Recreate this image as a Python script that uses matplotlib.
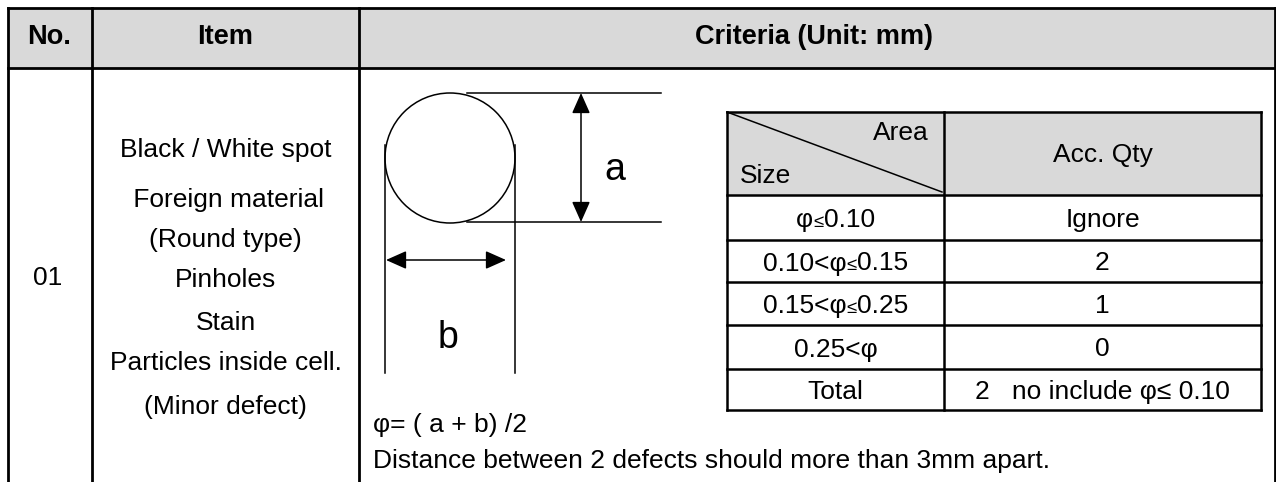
import matplotlib
matplotlib.use('Agg')
import matplotlib.pyplot as plt
from matplotlib.patches import Rectangle, Circle, FancyArrowPatch

plt.rcParams['font.family'] = ['Liberation Sans', 'DejaVu Sans']

# table content
header = ['No.', 'Item', 'Criteria (Unit: mm)']
item_no = '01'
item_lines = ['Black / White spot', ' Foreign material', '(Round type)', 'Pinholes',
              'Stain', 'Particles inside cell.', '(Minor defect)']
item_y = [150, 200, 240, 280, 323, 363, 407]
size_rows = [[('φ', 1.0), ('≤', 0.7), ('0.10', 1.0)],
             [('0.10<φ', 1.0), ('≤', 0.7), ('0.15', 1.0)],
             [('0.15<φ', 1.0), ('≤', 0.7), ('0.25', 1.0)],
             [('0.25<φ', 1.0)],
             [('Total', 1.0)]]
qty_rows = ['Ignore', '2', '1', '0', '2   no include φ≤ 0.10']
formula = 'φ= ( a + b) /2'
note = 'Distance between 2 defects should more than 3mm apart.'

W, H = 1276, 482
FS = 19

def runs_text(ax, x, y, runs, size):
    # one line of text made of pieces with different sizes, centred at x
    r = fig.canvas.get_renderer()
    parts = []
    total = 0
    for s, k in runs:
        t = ax.text(0, y, s, fontsize=size * k, va='baseline', ha='left')
        w = t.get_window_extent(renderer=r).width
        parts.append((t, w))
        total += w
    cur = x - total / 2
    for t, w in parts:
        t.set_x(cur)
        cur += w

fig = plt.figure(figsize=(W / 100, H / 100), dpi=100)
ax = fig.add_axes([0, 0, 1, 1])
ax.set_xlim(0, W)
ax.set_ylim(H, 0)
ax.axis('off')

# outer table
L, R, T, HB = 7.5, 1275, 7.5, 68
c1, c2 = 92, 359
ax.add_patch(Rectangle((L, T), R - L, HB - T, facecolor='#d9d9d9', edgecolor='none'))
olw = 2.0
ax.plot([L, R], [T, T], color='black', lw=olw, solid_capstyle='projecting')
ax.plot([L, R], [HB, HB], color='black', lw=olw)
for xx in [L, c1, c2, R]:
    ax.plot([xx, xx], [T, H + 5], color='black', lw=olw, solid_capstyle='projecting')

ax.text(49, 37, header[0], fontsize=FS + 0.5, fontweight='bold', ha='center', va='center')
ax.text((c1 + c2) / 2, 37, header[1], fontsize=FS + 0.5, fontweight='bold', ha='center', va='center')
ax.text(814, 37, header[2], fontsize=FS + 0.5, fontweight='bold', ha='center', va='center')

ax.text(48, 278, item_no, fontsize=FS, ha='center', va='center')
for s, yy in zip(item_lines, item_y):
    ax.text((c1 + c2) / 2, yy, s, fontsize=FS, ha='center', va='center')

# circle diagram
dlw = 1.1
ax.add_patch(Circle((450, 158), 65, facecolor='none', edgecolor='black', lw=dlw))
ax.plot([385, 385], [145, 373], color='black', lw=dlw)
ax.plot([515, 515], [145, 373], color='black', lw=dlw)
ax.plot([467, 661], [93, 93], color='black', lw=dlw)
ax.plot([467, 661], [222, 222], color='black', lw=dlw)
for p0, p1 in [((581, 93), (581, 222)), ((386, 260), (506, 260))]:
    ax.add_patch(FancyArrowPatch(p0, p1, arrowstyle='<|-|>,head_length=0.9,head_width=0.4',
                                 mutation_scale=14, color='black', lw=dlw, shrinkA=0, shrinkB=0))
ax.text(615, 170, 'a', fontsize=27, ha='center', va='center')
ax.text(448, 338, 'b', fontsize=27, ha='center', va='center')
ax.text(373, 425, formula, fontsize=FS, ha='left', va='center')
ax.text(373, 461, note, fontsize=FS, ha='left', va='center')

# inner table
iL, iM, iR = 727, 944, 1261
iT, iHB = 112, 195
row_lines = [240, 282, 325, 369]
iB = 410
ilw = 1.8
ax.add_patch(Rectangle((iL, iT), iR - iL, iHB - iT, facecolor='#d9d9d9', edgecolor='none'))
for yy in [iT, iHB] + row_lines + [iB]:
    ax.plot([iL, iR], [yy, yy], color='black', lw=ilw, solid_capstyle='projecting')
for xx in [iL, iM, iR]:
    ax.plot([xx, xx], [iT, iB], color='black', lw=ilw, solid_capstyle='projecting')
ax.plot([iL, 942], [iT, 192], color='black', lw=dlw)
ax.text(929, 133, 'Area', fontsize=FS, ha='right', va='center')
ax.text(740, 176, 'Size', fontsize=FS, ha='left', va='center')
ax.text((iM + iR) / 2, 155, 'Acc. Qty', fontsize=FS, ha='center', va='center')

edges = [iHB] + row_lines + [iB]
for i in range(len(size_rows)):
    yc = (edges[i] + edges[i + 1]) / 2
    runs_text(ax, (iL + iM) / 2, yc + 9.5, size_rows[i], FS)
    ax.text((iM + iR) / 2, yc + 9.5, qty_rows[i], fontsize=FS, ha='center', va='baseline')

fig.savefig('out.png', dpi=100)
